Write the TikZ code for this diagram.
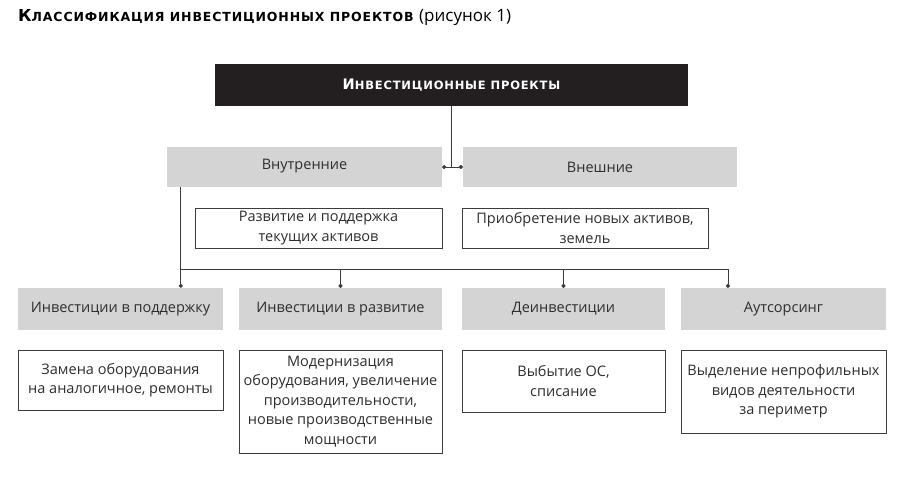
\documentclass[tikz,border=0pt]{standalone}
\usepackage{fontspec}
\setmainfont{Open Sans}
\newfontfamily\headfont{DejaVu Sans}[LetterSpace=7]
\usepackage{tikz}
\usetikzlibrary{arrows.meta}

\definecolor{lineGray}{HTML}{3C3C3C}
\definecolor{boxGray}{HTML}{D4D4D4}
\definecolor{textGray}{HTML}{2E2E2E}
\definecolor{topBlack}{HTML}{231F20}

\tikzset{
  grayBox/.style={fill=boxGray, draw=none, inner sep=0, text=textGray, font=\fontsize{14.5}{19}\selectfont},
  whiteBox/.style={draw=lineGray, line width=1pt, fill=white, inner sep=0, align=center, text=textGray, font=\fontsize{14.5}{19.5}\selectfont},
  link/.style={draw=lineGray, line width=1pt},
  dotEnd/.style={-{Circle[length=4pt]}},
}

\begin{document}
\begin{tikzpicture}[x=1pt, y=-1pt]
                \useasboundingbox (0,0) rectangle (900,480);

                \node[anchor=base west, inner sep=0, text=black](title) at (18,21) {{\headfont\bfseries\fontsize{16.5}{19}\selectfont К\fontsize{12.5}{19}\selectfont ЛАССИФИКАЦИЯ ИНВЕСТИЦИОННЫХ ПРОЕКТОВ}\hspace{3pt} {\fontsize{17}{19}\selectfont (рисунок 1)}};

                \node[fill=topBlack, inner sep=0, minimum width=473, minimum height=42, text=white](TOP) at (451.5,85) {\headfont\bfseries\fontsize{14.5}{17}\selectfont И\fontsize{11.5}{17}\selectfont НВЕСТИЦИОННЫЕ ПРОЕКТЫ};

                \node[grayBox, minimum width=275, minimum height=40](IN) at (304.5,167) {\raisebox{6pt}{Внутренние}};
                \node[grayBox, minimum width=274, minimum height=40](EX) at (600,167) {Внешние};

                \node[whiteBox, minimum width=247, minimum height=40](INtext) at (318.5,228) {Развитие и поддержка\\текущих активов};
                \node[whiteBox, minimum width=246, minimum height=40](EXtext) at (585,228) {Приобретение новых активов,\\земель};

                \node[grayBox, minimum width=205, minimum height=42](S1) at (120.5,309) {Инвестиции в поддержку};
                \node[grayBox, minimum width=203, minimum height=42](S2) at (340.5,309) {Инвестиции в развитие};
                \node[grayBox, minimum width=203, minimum height=42](S3) at (563.5,309) {Деинвестиции};
                \node[grayBox, minimum width=205, minimum height=42](S4) at (783.5,309) {Аутсорсинг};

                \node[whiteBox, minimum width=205, minimum height=60](S1text) at (120.5,380) {Замена оборудования\\на аналогичное, ремонты};
                \node[whiteBox, minimum width=203, minimum height=103](S2text) at (340.5,401.5) {Модернизация\\оборудования, увеличение\\производительности,\\новые производственные\\мощности};
                \node[whiteBox, minimum width=203, minimum height=62](S3text) at (563.5,381) {Выбытие ОС,\\списание};
                \node[whiteBox, minimum width=205, minimum height=83](S4text) at (783.5,391.5) {Выделение непрофильных\\видов деятельности\\за периметр};

                % top to the two groups
                \coordinate (TOPjoin) at (TOP.south |- IN.east);
                \draw[link] (TOP.south) -- (TOPjoin);
                \draw[link, {Circle[length=4pt]}-{Circle[length=4pt]}] (IN.east) -- (EX.west);

                % internal to the four kinds
                \coordinate (INdrop) at ([xshift=14pt]IN.south west);
                \coordinate (S4drop) at ([xshift=-55.5pt]S4.north);
                \coordinate (busLeft) at (INdrop |- 0,269);
                \coordinate (busRight) at (S4drop |- 0,269);
                \draw[link, dotEnd] (INdrop) -- (INdrop |- S1.north);
                \draw[link] (busLeft) -- (busRight);
                \draw[link, dotEnd] (S2.north |- busLeft) -- (S2.north);
                \draw[link, dotEnd] (S3.north |- busLeft) -- (S3.north);
                \draw[link, dotEnd] (busRight) -- (S4drop);

\end{tikzpicture}
\end{document}
